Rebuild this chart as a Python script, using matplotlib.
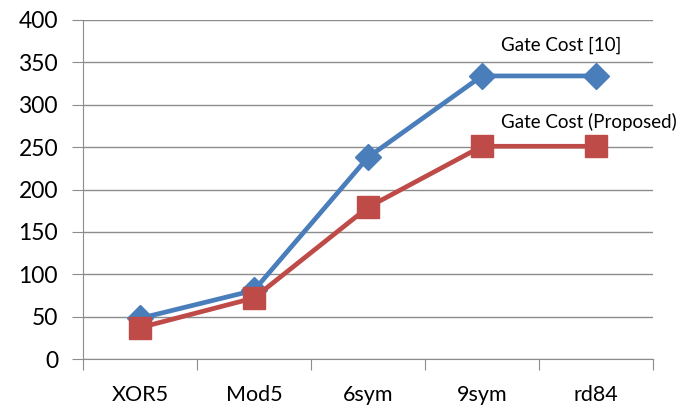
import numpy as np
import matplotlib.pyplot as plt

plt.rcParams['font.family'] = ['Lato', 'DejaVu Sans']

categories = ['XOR5', 'Mod5', '6sym', '9sym', 'rd84']
gate_cost_ref = [48, 81, 238, 334, 334]
gate_cost_proposed = [37, 72, 179, 251, 251]

fig = plt.figure(figsize=(6.99, 4.05), dpi=100)
ax = fig.add_axes([83 / 699, 1 - 359 / 405, (653 - 83) / 699, (359 - 20) / 405])

x = np.arange(len(categories))
ax.plot(x, gate_cost_ref, color='#4A7EBB', linewidth=3.4, marker='D', markersize=13,
        label='Gate Cost [10]', zorder=3)
ax.plot(x, gate_cost_proposed, color='#BE4B48', linewidth=3.4, marker='s', markersize=16,
        label='Gate Cost (Proposed)', zorder=3)

ax.text(3.17, 370, 'Gate Cost [10]', fontsize=13.5, va='center', ha='left')
ax.text(3.17, 280, 'Gate Cost (Proposed)', fontsize=13.5, va='center', ha='left')

ax.set_xlim(-0.5, len(categories) - 0.5)
ax.set_ylim(0, 400)
ax.set_yticks(np.arange(0, 401, 50))
ax.yaxis.grid(True, color='#8c8c8c', linewidth=1)
ax.set_axisbelow(True)

ax.set_xticks(np.arange(-0.5, len(categories), 1))
ax.set_xticklabels([])
ax.set_xticks(x, minor=True)
ax.set_xticklabels(categories, minor=True)
ax.tick_params(axis='x', which='major', length=8, color='#8c8c8c', direction='out')
ax.tick_params(axis='x', which='minor', length=0, pad=19, labelsize=15.5)
ax.tick_params(axis='y', length=8, color='#8c8c8c', labelsize=16.5, pad=10)

for side in ['top', 'right']:
    ax.spines[side].set_visible(False)
ax.spines['left'].set_color('#8c8c8c')
ax.spines['bottom'].set_color('#8c8c8c')

fig.savefig('out.png', dpi=100)
